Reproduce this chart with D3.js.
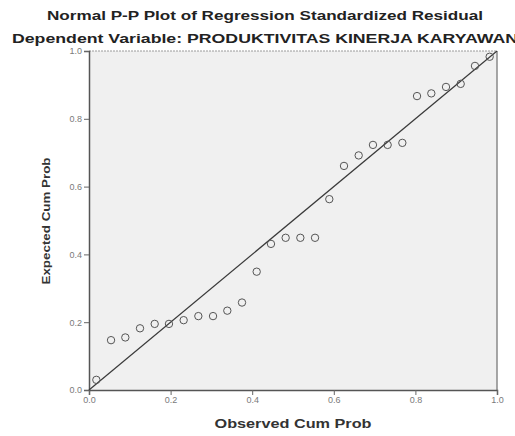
<!DOCTYPE html>
<html>
<head>
<meta charset="utf-8">
<script src="https://cdn.jsdelivr.net/npm/d3@7"></script>
<style>
  body { margin: 0; background: #fff; }
  svg { display: block; font-family: "Liberation Sans", Arial, sans-serif; }
</style>
</head>
<body>
<div id="chart"></div>
<script>
// observed cum prob (x) and expected cum prob (y)
var observed = [0.018, 0.054, 0.089, 0.125, 0.161, 0.196, 0.232, 0.268, 0.304, 0.339,
                0.375, 0.411, 0.446, 0.482, 0.518, 0.554, 0.589, 0.625, 0.661, 0.696,
                0.732, 0.768, 0.804, 0.839, 0.875, 0.911, 0.946, 0.982]
var expected = [0.030, 0.147, 0.155, 0.182, 0.195, 0.195, 0.206, 0.218, 0.218, 0.234,
                0.258, 0.349, 0.431, 0.449, 0.449, 0.449, 0.563, 0.661, 0.692, 0.723,
                0.723, 0.729, 0.867, 0.875, 0.894, 0.903, 0.956, 0.983]
var tickValues = [0, 0.2, 0.4, 0.6, 0.8, 1.0]

var title = "Normal P-P Plot of Regression Standardized Residual"
var subtitle = "Dependent Variable: PRODUKTIVITAS KINERJA KARYAWAN"
var xLabel = "Observed Cum Prob"
var yLabel = "Expected Cum Prob"

var data = observed.map(function(d, i) { return {x: d, y: expected[i]} })

// set the dimensions and margins of the graph
var margin = {top: 51, right: 18, bottom: 46, left: 89},
    width = 515 - margin.left - margin.right,
    height = 436 - margin.top - margin.bottom;

var root = d3.select("#chart")
  .append("svg")
    .attr("width", 515)
    .attr("height", 436)

var svg = root.append("g")
    .attr("transform", "translate(" + margin.left + "," + margin.top + ")");

var x = d3.scaleLinear().domain([0, 1]).range([0, width])
var y = d3.scaleLinear().domain([0, 1]).range([height, 0])

// plot background + frame
svg.append("rect")
  .attr("width", width)
  .attr("height", height)
  .attr("fill", "#f0f0f0")

svg.append("line")
  .attr("x1", 0).attr("x2", width)
  .attr("y1", 0).attr("y2", 0)
  .attr("stroke", "#9a9a9a")
  .attr("stroke-dasharray", "2,1")
svg.append("line")
  .attr("x1", width).attr("x2", width)
  .attr("y1", 0).attr("y2", height)
  .attr("stroke", "#8a8a8a")
  .attr("stroke-width", 1.5)

// axes
var fmt = d3.format(".1f")
svg.append("g")
  .call(d3.axisLeft(y).tickValues(tickValues).tickFormat(fmt).tickSize(5).tickPadding(2))
svg.append("g")
  .attr("transform", "translate(0," + height + ")")
  .call(d3.axisBottom(x).tickValues(tickValues).tickFormat(fmt).tickSize(5).tickPadding(2))

svg.selectAll(".domain").attr("stroke", "#555").attr("stroke-width", 1.5)
svg.selectAll(".tick line").attr("stroke", "#666")
svg.selectAll(".tick text")
  .attr("fill", "#7a7a7a")
  .style("font-size", "9px")

// reference diagonal
svg.append("line")
  .attr("x1", x(0)).attr("y1", y(0))
  .attr("x2", x(1)).attr("y2", y(1))
  .attr("stroke", "#3a3a3a")
  .attr("stroke-width", 1.2)

// points
svg.append("g")
  .selectAll("circle")
  .data(data)
  .enter()
  .append("circle")
    .attr("cx", function(d) { return x(d.x) })
    .attr("cy", function(d) { return y(d.y) })
    .attr("r", 3.7)
    .attr("fill", "none")
    .attr("stroke", "#555")
    .attr("stroke-width", 1)

// titles
root.append("text")
  .attr("x", 265).attr("y", 20)
  .attr("text-anchor", "middle")
  .attr("textLength", 436)
  .attr("lengthAdjust", "spacingAndGlyphs")
  .style("font-size", "13px").style("font-weight", "bold")
  .attr("fill", "#222")
  .text(title)

root.append("text")
  .attr("x", 265).attr("y", 43)
  .attr("text-anchor", "middle")
  .attr("textLength", 506)
  .attr("lengthAdjust", "spacingAndGlyphs")
  .style("font-size", "13px").style("font-weight", "bold")
  .attr("fill", "#222")
  .text(subtitle)

root.append("text")
  .attr("x", 293).attr("y", 428)
  .attr("text-anchor", "middle")
  .attr("textLength", 157)
  .attr("lengthAdjust", "spacingAndGlyphs")
  .style("font-size", "12px").style("font-weight", "bold")
  .attr("fill", "#333")
  .text(xLabel)

root.append("text")
  .attr("transform", "translate(50,221) rotate(-90)")
  .attr("text-anchor", "middle")
  .attr("textLength", 127)
  .attr("lengthAdjust", "spacingAndGlyphs")
  .style("font-size", "11px").style("font-weight", "bold")
  .attr("fill", "#333")
  .text(yLabel)
</script>
</body>
</html>
